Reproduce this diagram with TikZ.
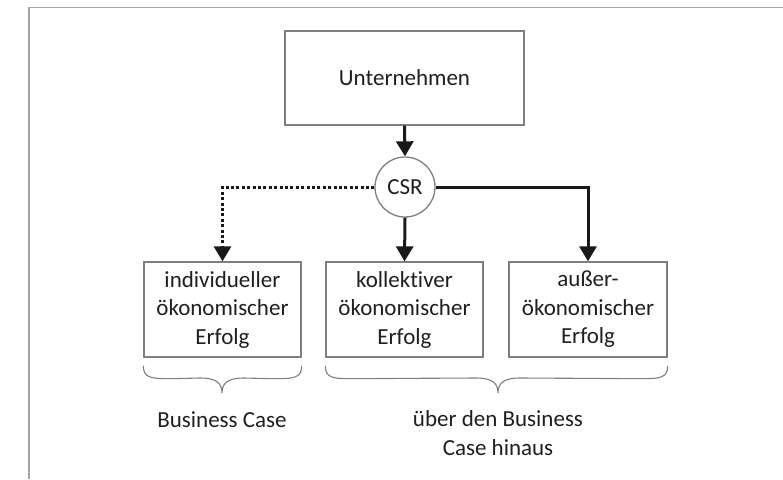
\documentclass[tikz,border=0pt]{standalone}
\usepackage{fontspec}
\setmainfont{Carlito}[Ligatures={NoCommon}]
\usetikzlibrary{arrows.meta,calc}
\definecolor{boxgray}{HTML}{7F7F7F}
\definecolor{framegray}{HTML}{A6A6A6}
\definecolor{txt}{HTML}{1F1F1F}
\begin{document}
\begin{tikzpicture}[x=1pt,y=-1pt,
  font=\fontsize{23}{28.5}\selectfont, text=txt,
  boxnode/.style={draw=boxgray, line width=1.3pt, align=center, inner sep=0pt},
  flowarrow/.style={draw=black!90, line width=3pt, -{Triangle[width=17pt,length=15pt]}},
  dotarrow/.style={flowarrow, dash pattern=on 3pt off 2.4pt},
  bracepath/.style={draw=boxgray, line width=1.1pt},
  labeltext/.style={align=center, inner sep=0pt}]
\useasboundingbox (0,0) rectangle (783,479);
% frame
\draw[framegray, line width=1.5pt] (29,479) -- (29,7.5) -- (783,7.5);
% nodes
\node[boxnode, minimum width=239pt, minimum height=94pt] (u) at (404.5,78) {Unternehmen};
\node[boxnode, circle, minimum size=60pt] (csr) at (405,187) {CSR};
\node[boxnode, minimum width=157pt, minimum height=95pt] (b1) at (222.5,309.5) {individueller\\ökonomischer\\Erfolg};
\node[boxnode, minimum width=157pt, minimum height=95pt] (b2) at (404.5,309.5) {kollektiver\\ökonomischer\\Erfolg};
\node[boxnode, minimum width=158pt, minimum height=95pt] (b3) at (588,309.5) {außer-\\ökonomischer\\Erfolg};
% connectors
\draw[flowarrow] (u.south) -- (csr.north);
\draw[dotarrow] (csr.west) -| (b1.north);
\draw[flowarrow] (csr.south) -- (b2.north);
\draw[flowarrow] (csr.east) -| (b3.north);
% braces
\coordinate (l1) at ($(b1.south west)+(0,8)$);
\coordinate (r1) at ($(b1.south east)+(0,8)$);
\coordinate (t1) at (222,393);
\draw[bracepath] (l1) .. controls ($(l1)+(0,13)$) and ($(l1)+(8,13)$) .. ($(l1)+(30,13)$)
  -- ($(t1)+(-22,-15)$) .. controls ($(t1)+(-6,-15)$) and ($(t1)+(0,-10)$) .. (t1)
  .. controls ($(t1)+(0,-10)$) and ($(t1)+(6,-15)$) .. ($(t1)+(22,-15)$)
  -- ($(r1)+(-30,13)$) .. controls ($(r1)+(-8,13)$) and ($(r1)+(0,13)$) .. (r1);
\coordinate (l2) at ($(b2.south west)+(0,8)$);
\coordinate (r2) at ($(b3.south east)+(0,8)$);
\coordinate (t2) at (498,393);
\draw[bracepath] (l2) .. controls ($(l2)+(0,13)$) and ($(l2)+(8,13)$) .. ($(l2)+(30,13)$)
  -- ($(t2)+(-22,-15)$) .. controls ($(t2)+(-6,-15)$) and ($(t2)+(0,-10)$) .. (t2)
  .. controls ($(t2)+(0,-10)$) and ($(t2)+(6,-15)$) .. ($(t2)+(22,-15)$)
  -- ($(r2)+(-30,13)$) .. controls ($(r2)+(-8,13)$) and ($(r2)+(0,13)$) .. (r2);
% labels
\node[labeltext] (lbl1) at (222,420) {Business Case};
\node[labeltext] (lbl2) at (498,433) {über den Business\\Case hinaus};
\end{tikzpicture}
\end{document}
